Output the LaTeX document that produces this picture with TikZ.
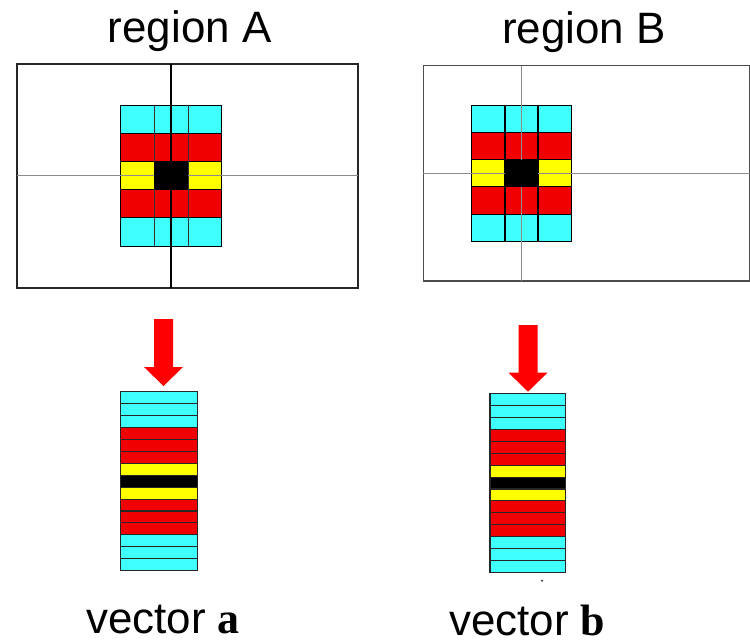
\documentclass[tikz,border=0pt]{standalone}
\usepackage{fontspec}
\setmainfont{Liberation Sans}
\newfontfamily\serifbold{Liberation Serif}
\usetikzlibrary{calc}
\definecolor{cellcyan}{RGB}{64,255,255}
\definecolor{cellred}{RGB}{240,0,0}
\definecolor{cellyellow}{RGB}{255,255,0}
\def\regiongrid(#1,#2)(#3,#4)[#5]{%
	\draw[fill=cellcyan, line width=0.5pt] (#1,#2) rectangle ++(3*#3,#4);
	\draw[fill=cellred, line width=0.5pt] (#1,#2+#4) rectangle ++(3*#3,#4);
	\draw[fill=cellyellow, line width=0.5pt] (#1,#2+2*#4) rectangle ++(3*#3,#4);
	\draw[fill=cellred, line width=0.5pt] (#1,#2+3*#4) rectangle ++(3*#3,#4);
	\draw[fill=cellcyan, line width=0.5pt] (#1,#2+4*#4) rectangle ++(3*#3,#4);
	\draw[#5] (#1+#3,#2) -- ++(0,5*#4);
	\draw[#5] (#1+2*#3,#2) -- ++(0,5*#4);}
\def\featvec(#1,#2)(#3,#4){%
	\fill[cellcyan] (#1,#2) rectangle ++(#3,3*#4);
	\fill[cellred] (#1,#2+3*#4) rectangle ++(#3,3*#4);
	\fill[cellyellow] (#1,#2+6*#4) rectangle ++(#3,3*#4);
	\fill[black] (#1,#2+7*#4) rectangle ++(#3,#4);
	\fill[cellred] (#1,#2+9*#4) rectangle ++(#3,3*#4);
	\fill[cellcyan] (#1,#2+12*#4) rectangle ++(#3,3*#4);
	\foreach \k in {1,...,14} \draw[line width=0.6pt, black!85] (#1,#2+\k*#4) -- ++(#3,0);
	\draw[line width=0.6pt, black!85] (#1,#2) rectangle ++(#3,15*#4);}
\def\blockarrow(#1,#2)(#3){\fill[red] (#1-9.5,#2) -- (#1+9.5,#2) -- (#1+9.5,#3-19) -- (#1+19.5,#3-19) -- (#1,#3) -- (#1-19.5,#3-19) -- (#1-9.5,#3-19) -- cycle;}

\begin{document}
\begin{tikzpicture}[x=0.02cm, y=-0.02cm]
		%%%%% START %%%%%
		\useasboundingbox (0,0) rectangle (750,643);
		\fontsize{25}{30}\selectfont
		
		\node[anchor=base, inner sep=0] (labA) at (189.7, 42.7) {region A};
		\node[anchor=base, inner sep=0] (labB) at (584, 43) {region B};
		
		% region A
		\draw[line width=1pt, color=black!85] (17, 64) rectangle (358, 288);
		\regiongrid(120.7,105)(33.67,28.2)[line width=0.5pt, color=black!80]
		\draw[line width=0.8pt, color=black!45] (17, 175.7) -- (358, 175.7);
		\draw[line width=1.1pt, color=black] (170.7, 64) -- (170.7, 288);
		\fill[black] (154.4, 161.4) rectangle (188.1, 189.6);
		
		% region B
		\draw[line width=0.9pt, color=black!70] (423.3, 65.7) rectangle (749.5, 281);
		\regiongrid(471.7,105)(33.33,27.3)[line width=1.1pt, color=black]
		\draw[line width=0.8pt, color=black!45] (423.3, 173.6) -- (749.5, 173.6);
		\draw[line width=0.8pt, color=black!45] (521.7, 65.7) -- (521.7, 281);
		\fill[black] (505, 159.6) rectangle (538.4, 186.9);
		
		\blockarrow(163.5,319)(386)
		\blockarrow(528,325)(391.7)
		
		\featvec(120.7,391.7)(76.6,11.93)
		\featvec(490,393.3)(75.7,11.96)
		\fill[black!80] (542, 580.7) circle (1.2);
		
		\node[anchor=base, inner sep=0] (vecA) at (163, 633.3) {vector {\serifbold\bfseries a}};
		\node[anchor=base, inner sep=0] (vecB) at (527.3, 635) {vector {\serifbold\bfseries b}};
		%%%%% END %%%%%
\end{tikzpicture}
\end{document}
